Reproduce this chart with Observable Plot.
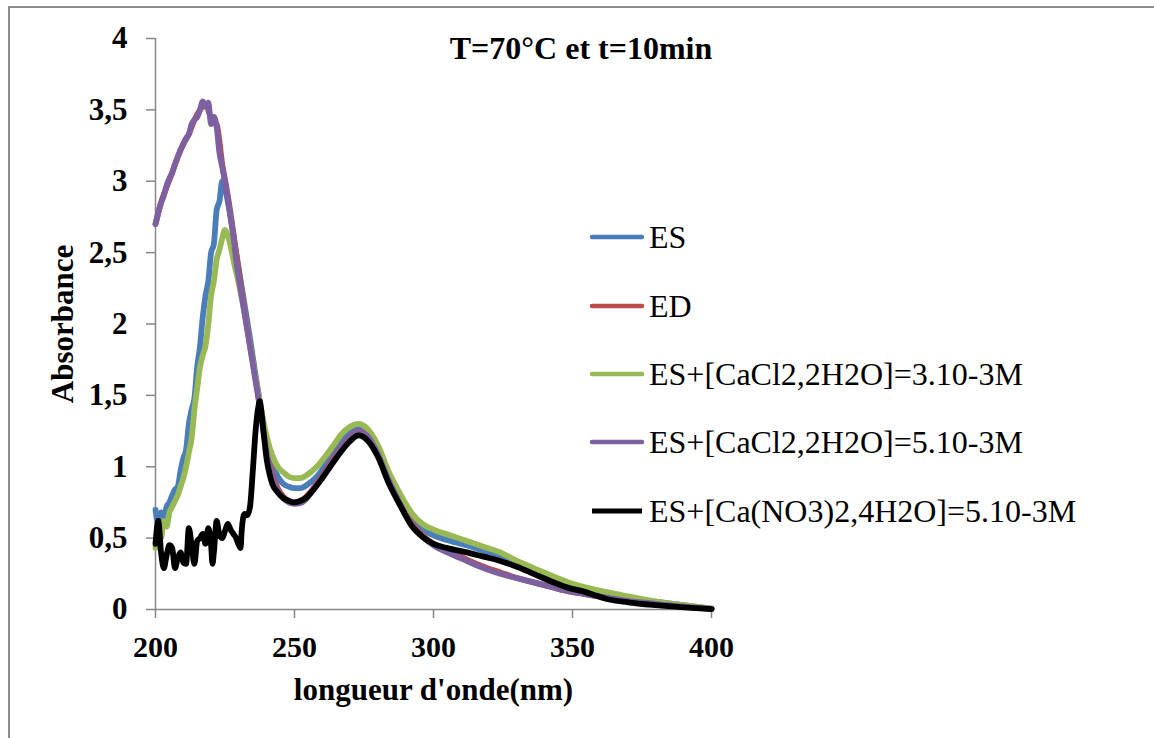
<!DOCTYPE html>
<html>
<head>
<meta charset="utf-8">
<script src="https://cdn.jsdelivr.net/npm/d3@7"></script>
<script src="https://cdn.jsdelivr.net/npm/@observablehq/plot@0.6"></script>
<style>
  html, body { margin: 0; padding: 0; background: #fff; overflow: hidden; }
  #wrap { position: relative; width: 1154px; height: 738px; overflow: hidden; }
  #frame { position: absolute; left: 8px; top: 6px; width: 1300px; height: 900px; border: 2px solid #8c8c8c; box-sizing: border-box; }
  #chart { position: absolute; left: 0; top: 0; }
  #title { position: absolute; left: 581px; top: 48px; transform: translate(-50%, -50%); font: bold 32px "Liberation Serif", serif; white-space: nowrap; }
  .leg { position: absolute; left: 589px; height: 40px; display: flex; align-items: center; font: 32px "Liberation Serif", serif; white-space: nowrap; transform: translateY(-50%); }
  .leg svg { margin-right: 4px; }
</style>
</head>
<body>
<div id="wrap">
  <div id="frame"></div>
  <div id="chart"></div>
  <div id="title">T=70°C et t=10min</div>
  <div id="legend"></div>
</div>
<script>
// ---- data (wavelength nm, absorbance) ----
const seriesNames = ["ES", "ED", "ES+[CaCl2,2H2O]=3.10-3M", "ES+[CaCl2,2H2O]=5.10-3M", "ES+[Ca(NO3)2,4H2O]=5.10-3M"];
const seriesColors = ["#4a7ebb", "#be4b48", "#98b954", "#7d60a0", "#000000"];

const esData = [
  [200,0.70],[201,0.60],[202,0.68],[203,0.64],[204,0.72],[205,0.75],[206,0.80],[207,0.84],[208,0.86],[209,0.97],
  [210,1.06],[211,1.12],[212,1.30],[213,1.40],[214,1.48],[215,1.70],[216,1.84],[217,2.05],[218,2.20],[219,2.30],
  [220,2.50],[221,2.56],[222,2.80],[223,2.86],[224,3.00],[225,2.95],[226,2.86],[228,2.62],[230,2.38],[232,2.14],
  [234,1.90],[236,1.64],[238,1.40],[240,1.17],[242,1.02],[244,0.93],[246,0.88],[248,0.86],[250,0.85],[252,0.85],
  [255,0.88],[258,0.93],[261,1.01],[264,1.10],[267,1.19],[270,1.25],[273,1.27],[276,1.24],[280,1.12],[284,0.92],
  [288,0.77],[292,0.64],[296,0.56],[300,0.52],[306,0.48],[312,0.45],[318,0.41],[324,0.37],[330,0.32],[336,0.27],
  [342,0.22],[350,0.17],[360,0.12],[370,0.08],[380,0.055],[390,0.03],[400,0.005]
];

const edData = [
  [200,2.70],[202,2.85],[204,2.96],[206,3.06],[208,3.17],[210,3.26],[212,3.33],[214,3.43],[216,3.50],[218,3.54],
  [220,3.44],[222,3.40],[224,3.12],[226,2.90],[228,2.64],[230,2.36],[232,2.10],[234,1.86],[236,1.62],[238,1.38],
  [240,1.12],[242,0.95],[244,0.85],[246,0.79],[248,0.76],[250,0.75],[253,0.77],[256,0.83],[260,0.94],[265,1.09],
  [270,1.21],[273,1.25],[276,1.22],[280,1.10],[284,0.91],[288,0.75],[292,0.61],[296,0.52],[300,0.46],[306,0.41],
  [312,0.35],[318,0.30],[324,0.26],[330,0.22],[336,0.19],[342,0.16],[348,0.13],[354,0.11],[360,0.09],[370,0.06],
  [380,0.04],[390,0.02],[400,0.005]
];

const cacl3Data = [
  [200,0.43],[201,0.55],[202,0.50],[203,0.62],[204,0.58],[205,0.68],[206,0.72],[207,0.76],[208,0.80],[209,0.86],
  [210,0.92],[211,1.00],[212,1.10],[213,1.20],[214,1.40],[215,1.55],[216,1.70],[217,1.78],[218,1.85],[219,2.00],
  [220,2.20],[221,2.30],[222,2.45],[223,2.52],[224,2.60],[225,2.66],[226,2.62],[227,2.55],[228,2.45],[230,2.28],
  [232,2.08],[234,1.85],[236,1.62],[238,1.40],[240,1.21],[242,1.08],[244,1.00],[246,0.96],[248,0.93],[250,0.92],
  [252,0.92],[255,0.95],[258,1.00],[261,1.07],[264,1.15],[267,1.23],[270,1.28],[273,1.30],[276,1.27],[280,1.15],
  [284,0.96],[288,0.81],[292,0.68],[296,0.60],[300,0.56],[306,0.52],[312,0.48],[318,0.44],[324,0.40],[330,0.34],
  [336,0.29],[342,0.24],[350,0.18],[360,0.13],[368,0.10],[378,0.063],[390,0.03],[400,0.007]
];

const cacl5Data = [
  [200,2.70],[201,2.78],[202,2.85],[203,2.90],[204,2.97],[205,3.02],[206,3.06],[207,3.12],[208,3.17],[209,3.22],
  [210,3.26],[211,3.30],[212,3.33],[213,3.40],[214,3.43],[215,3.45],[216,3.50],[217,3.56],[218,3.52],[219,3.55],
  [220,3.40],[221,3.45],[222,3.38],[223,3.20],[224,3.10],[225,3.00],[226,2.88],[227,2.75],[228,2.62],[229,2.45],
  [230,2.32],[232,2.08],[234,1.84],[236,1.60],[237,1.48],[238,1.36],[239,1.22],[240,1.10],[241,1.00],[242,0.93],
  [243,0.87],[244,0.83],[246,0.78],[248,0.75],[250,0.74],[252,0.745],[254,0.77],[256,0.82],[260,0.93],[265,1.08],
  [270,1.21],[273,1.25],[276,1.22],[280,1.09],[284,0.90],[288,0.74],[292,0.60],[296,0.51],[300,0.45],[305,0.40],
  [312,0.34],[318,0.29],[324,0.25],[330,0.22],[336,0.19],[342,0.16],[348,0.13],[354,0.11],[360,0.09],[370,0.06],
  [380,0.04],[390,0.02],[400,0.005]
];

const nitrateData = [
  [200,0.46],[201,0.62],[202,0.40],[203,0.29],[204,0.38],[205,0.45],[206,0.43],[207,0.29],[208,0.36],[209,0.40],
  [210,0.33],[211,0.32],[212,0.57],[213,0.45],[214,0.32],[215,0.48],[216,0.50],[217,0.53],[218,0.46],[219,0.57],
  [220,0.45],[220.5,0.32],[221,0.40],[222,0.62],[223,0.52],[224,0.50],[225,0.55],[226,0.60],[227,0.56],[228,0.53],
  [229,0.50],[230,0.45],[230.6,0.43],[231,0.55],[232,0.67],[233,0.66],[234,0.72],[235,0.97],[236,1.25],[237,1.42],
  [237.5,1.46],[238,1.40],[239,1.22],[240,1.05],[241,0.95],[242,0.88],[244,0.82],[246,0.78],[248,0.76],[250,0.75],
  [252,0.76],[254,0.78],[256,0.82],[260,0.92],[265,1.06],[270,1.18],[273,1.22],[276,1.19],[280,1.07],[284,0.88],
  [288,0.73],[292,0.59],[296,0.51],[300,0.46],[305,0.43],[312,0.40],[318,0.37],[324,0.34],[330,0.30],[336,0.25],
  [342,0.20],[348,0.155],[355,0.12],[358,0.10],[362,0.075],[370,0.05],[380,0.03],[390,0.015],[400,0.003]
];

const xTicks = [200, 250, 300, 350, 400];
const yTicks = [0, 0.5, 1, 1.5, 2, 2.5, 3, 3.5, 4];
const xTitle = "longueur d'onde(nm)";
const yTitle = "Absorbance";

// ---- build table ----
const allData = [esData, edData, cacl3Data, cacl5Data, nitrateData];
const rows = [];
allData.forEach((arr, i) => arr.forEach(([x, y]) => rows.push({series: seriesNames[i], x, y})));

const fmt = d => String(d).replace(".", ",");
const axisColor = "#868686";

const chart = Plot.plot({
  width: 1154,
  height: 738,
  marginLeft: 155,
  marginRight: 443,
  marginTop: 38,
  marginBottom: 129,
  style: { fontFamily: "Liberation Serif, serif", background: "transparent", overflow: "visible" },
  x: { domain: [200, 400], axis: null },
  y: { domain: [0, 4], axis: null },
  color: { domain: seriesNames, range: seriesColors },
  marks: [
    Plot.axisX({ticks: xTicks, tickSize: 9, tickPadding: 17, stroke: axisColor, strokeWidth: 1.5, tickFormat: fmt,
      fontSize: 30, fontWeight: "bold", fill: "#000", label: null}),
    Plot.axisY({ticks: yTicks, tickSize: 9, tickPadding: 19, stroke: axisColor, strokeWidth: 1.5, tickFormat: fmt,
      fontSize: 31, fontWeight: "bold", fill: "#000", label: null}),
    Plot.ruleY([0], {stroke: axisColor, strokeWidth: 1.5}),
    Plot.ruleX([200], {stroke: axisColor, strokeWidth: 1.5}),
    Plot.line(rows, {x: "x", y: "y", z: "series", stroke: "series", strokeWidth: 5.8, curve: "monotone-x",
      strokeLinejoin: "round", strokeLinecap: "round"}),
    Plot.text([xTitle], {frameAnchor: "bottom", dy: 90, fontSize: 31, fontWeight: "bold", fill: "#000"}),
    Plot.text([yTitle], {frameAnchor: "left", textAnchor: "middle", dx: -92, rotate: -90, fontSize: 31, fontWeight: "bold", fill: "#000"})
  ]
});
document.getElementById("chart").appendChild(chart);

// ---- legend ----
const legY = [237, 306, 374, 442, 511];
const legend = document.getElementById("legend");
seriesNames.forEach((name, i) => {
  const row = document.createElement("div");
  row.className = "leg";
  row.style.top = legY[i] + "px";
  const sw = i === 4 ? 5 : 4.5;
  row.innerHTML = `<svg width="56" height="12"><line x1="3" y1="6" x2="53" y2="6" stroke="${seriesColors[i]}" stroke-width="${sw}" stroke-linecap="${i === 4 ? 'butt' : 'round'}"/></svg><span>${name}</span>`;
  legend.appendChild(row);
});
</script>
</body>
</html>
